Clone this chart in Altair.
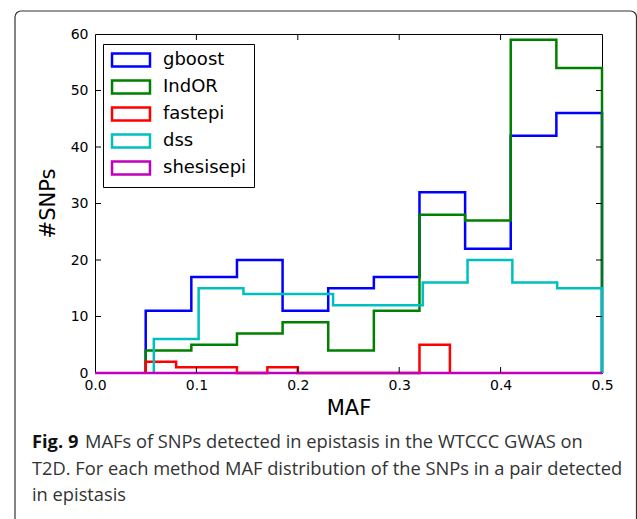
import altair as alt
import numpy as np
import pandas as pd

# ---- data ----
series = ["gboost", "IndOR", "fastepi", "dss", "shesisepi"]
colors = ["#0000ff", "#008000", "#ff0000", "#00bfbf", "#bf00bf"]
bin_start = [0.05, 0.05, 0.05, 0.058, 0.0]
bin_end = [0.5, 0.5, 0.35, 0.5, 0.5]
gboost_counts = [11, 17, 20, 11, 15, 17, 32, 22, 42, 46]
indor_counts = [4, 5, 7, 9, 4, 11, 28, 27, 59, 54]
fastepi_counts = [2, 1, 1, 0, 1, 0, 0, 0, 0, 5]
dss_counts = [6, 15, 14, 14, 12, 12, 16, 20, 16, 15]
shesisepi_counts = [0, 0, 0, 0, 0, 0, 0, 0, 0, 0]
x_ticks = [0.0, 0.1, 0.2, 0.3, 0.4, 0.5]
y_ticks = [0, 10, 20, 30, 40, 50, 60]
y_title = "#SNPs"
caption_bold = "Fig. 9"
caption_line1 = "MAFs of SNPs detected in epistasis in the WTCCC GWAS on"
caption_line2 = "T2D. For each method MAF distribution of the SNPs in a pair detected"
caption_line3 = "in epistasis"

counts = [gboost_counts, indor_counts, fastepi_counts, dss_counts, shesisepi_counts]

# step outline (matplotlib histtype="step") built from bin edges and counts
rows = []
for name, s, e, c in zip(series, bin_start, bin_end, counts):
    edges = np.linspace(s, e, len(c) + 1)
    k = 0
    rows.append({"series": name, "x": edges[0], "y": 0, "k": k}); k += 1
    for i, v in enumerate(c):
        rows.append({"series": name, "x": edges[i], "y": v, "k": k}); k += 1
        rows.append({"series": name, "x": edges[i + 1], "y": v, "k": k}); k += 1
    rows.append({"series": name, "x": edges[-1], "y": 0, "k": k})
df = pd.DataFrame(rows)

W, H = 507, 339
FONT = "DejaVu Sans"

xscale = alt.Scale(domain=[0, 0.5], nice=False, zero=False)
yscale = alt.Scale(domain=[0, 60], nice=False, zero=True)
xaxis = alt.Axis(values=x_ticks, format=".1f", ticks=False, domain=False, grid=False,
                 labelFont=FONT, labelFontSize=14, labelColor="black", labelPadding=5,
                 title="MAF", titleFont=FONT, titleFontSize=21, titleFontWeight="normal",
                 titleColor="black", titlePadding=5, labelFlush=False)
yaxis = alt.Axis(values=y_ticks, format="d", ticks=False, domain=False, grid=False,
                 labelFont=FONT, labelFontSize=14, labelColor="black", labelPadding=7,
                 title=None)

legend = alt.Legend(title=None, orient="none", legendX=8, legendY=10,
                    symbolType="M-2.92,-1H2.92V1H-2.92Z", symbolSize=169,
                    symbolStrokeWidth=2.5, symbolFillColor="white",
                    symbolOffset=12, labelOffset=23,
                    labelFont=FONT, labelFontSize=18, labelColor="black",
                    strokeColor="black", fillColor="white", padding=7,
                    rowPadding=3)

color = alt.Color("series:N", scale=alt.Scale(domain=series, range=colors), legend=legend)

layers = []
for name in series:
    layers.append(
        alt.Chart(df).transform_filter(alt.datum.series == name)
        .mark_line(strokeWidth=2.5, interpolate="linear", strokeJoin="miter", clip=False)
        .encode(x=alt.X("x:Q", scale=xscale, axis=xaxis),
                y=alt.Y("y:Q", scale=yscale, axis=yaxis),
                color=color, order="k:Q")
    )

inner_x = [t for t in x_ticks if 0 < t < 0.5]
inner_y = [t for t in y_ticks if 0 < t < 60]
dfx = pd.DataFrame({"t": inner_x})
dfy = pd.DataFrame({"t": inner_y})
tick_style = dict(color="black", strokeWidth=1)
xb = alt.Chart(dfx).mark_rule(**tick_style).encode(
    x=alt.X("t:Q", scale=xscale, axis=xaxis), y=alt.value(H), y2=alt.value(H - 6))
xt = alt.Chart(dfx).mark_rule(**tick_style).encode(
    x=alt.X("t:Q", scale=xscale, axis=xaxis), y=alt.value(0), y2=alt.value(6))
yl = alt.Chart(dfy).mark_rule(**tick_style).encode(
    y=alt.Y("t:Q", scale=yscale, axis=yaxis), x=alt.value(0), x2=alt.value(6))
yr = alt.Chart(dfy).mark_rule(**tick_style).encode(
    y=alt.Y("t:Q", scale=yscale, axis=yaxis), x=alt.value(W), x2=alt.value(W - 6))

one = pd.DataFrame({"a": [0]})
ytitle = alt.Chart(one).mark_text(
    text=y_title, font=FONT, fontSize=21, color="black", angle=270,
    align="center", baseline="middle", clip=False
).encode(x=alt.value(49 - 95), y=alt.value(H / 2))

# outer figure box (rounded) and caption
box = alt.Chart(one).mark_rect(
    fill=None, stroke="#333333", strokeWidth=1.2, cornerRadius=6, clip=False
).encode(x=alt.value(15 - 95), x2=alt.value(636.5 - 95), y=alt.value(11 - 34), y2=alt.value(560))

CAP_FONT = "Open Sans"
CAP_COL = "#333333"
CAP_SIZE = 18.3
def cap(text, x, y, bold=False):
    return alt.Chart(one).mark_text(
        text=text, font=CAP_FONT, fontSize=CAP_SIZE, fontWeight="bold" if bold else "normal",
        color="#111111" if bold else CAP_COL, align="left", baseline="alphabetic", clip=False
    ).encode(x=alt.value(x), y=alt.value(y))

caps = [
    cap(caption_bold, 32 - 95, 448 - 34, bold=True),
    cap(caption_line1, 85 - 95, 448 - 34),
    cap(caption_line2, 32 - 95, 475 - 34),
    cap(caption_line3, 32 - 95, 501 - 34),
]

chart = alt.layer(box, *layers, xb, xt, yl, yr, ytitle, *caps).properties(
    width=W, height=H,
    autosize=alt.AutoSizeParams(type="none"),
    padding={"left": 95, "top": 34, "right": 637 - 95 - W, "bottom": 519 - 34 - H},
    background="white",
).configure_view(stroke="black", strokeWidth=1)

chart.save("out.html", embed_options={"renderer": "svg", "actions": False})
